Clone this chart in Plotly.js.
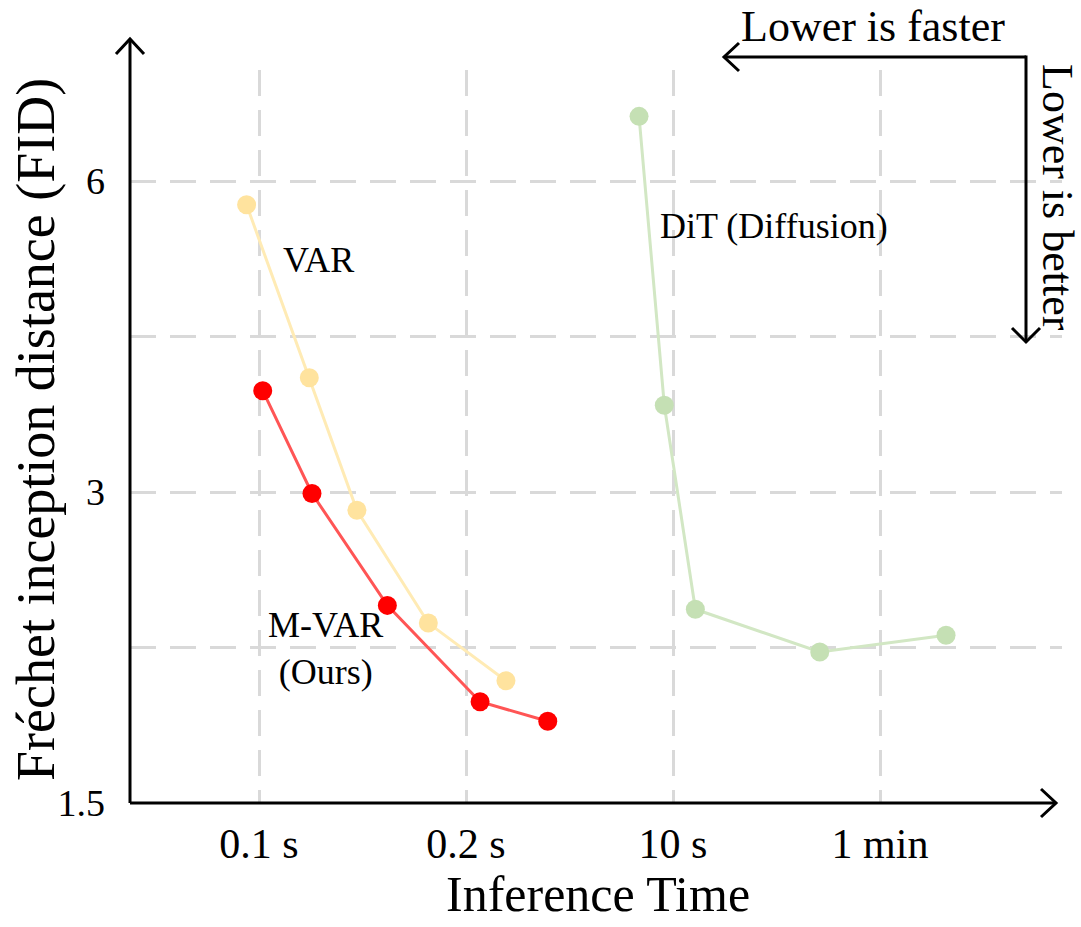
<!DOCTYPE html>
<html>
<head>
<meta charset="utf-8">
<script src="https://cdn.plot.ly/plotly-3.0.1.min.js"></script>
<style>html,body{margin:0;padding:0;background:#fff;}#chart{width:1081px;height:927px;}</style>
</head>
<body>
<div id="chart"></div>
<script>
// ---- data (x = position on the broken time axis: 1=0.1 s, 2=0.2 s, 3=10 s, 4=1 min) ----
const tickPositions = [1, 2, 3, 4];
const tickLabels = ['0.1 s', '0.2 s', '10 s', '1 min'];
const fidTicks = [1.5, 3, 6];
const fidTickLabels = ['1.5', '3', '6'];
const fidMinorGrid = [2.121, 4.243];

const varTime = [0.940, 1.243, 1.473, 1.818, 2.193];
const varFid  = [5.69, 3.87, 2.88, 2.24, 1.97];

const mvarTime = [1.018, 1.256, 1.620, 2.068, 2.395];
const mvarFid  = [3.76, 2.99, 2.33, 1.88, 1.80];

const ditTime = [2.836, 2.958, 3.108, 3.709, 4.319];
const ditFid  = [6.93, 3.64, 2.31, 2.10, 2.18];

// ---- layout geometry ----
const W = 1081, H = 927;
const M = {l: 130, r: 19, t: 70, b: 124};
const PW = W - M.l - M.r, PH = H - M.t - M.b;
const px = x => (x - M.l) / PW;         // pixel -> paper x
const py = y => (H - M.b - y) / PH;     // pixel -> paper y
const FONT = 'Liberation Serif, Times New Roman, serif';

function line(x0, y0, x1, y1) {
  return {type: 'line', xref: 'paper', yref: 'paper', x0: px(x0), y0: py(y0), x1: px(x1), y1: py(y1),
          line: {color: '#000', width: 3}, layer: 'above'};
}
function chevron(pts) {
  const d = 'M' + pts.map(p => px(p[0]) + ',' + py(p[1])).join(' L');
  return {type: 'path', xref: 'paper', yref: 'paper', path: d, line: {color: '#000', width: 3}, layer: 'above'};
}

const traces = [
  {x: varTime, y: varFid, mode: 'lines+markers', name: 'VAR',
   line: {color: '#FFEBB5', width: 3}, marker: {color: '#FFE39E', size: 19}, cliponaxis: false},
  {x: mvarTime, y: mvarFid, mode: 'lines+markers', name: 'M-VAR (Ours)',
   line: {color: '#FF5555', width: 3}, marker: {color: '#FF0000', size: 19}, cliponaxis: false},
  {x: ditTime, y: ditFid, mode: 'lines+markers', name: 'DiT (Diffusion)',
   line: {color: '#D2E7C4', width: 3}, marker: {color: '#C5E0B4', size: 19}, cliponaxis: false}
];

const gridStyle = {gridcolor: '#D9D9D9', gridwidth: 3, griddash: '26px,14px'};

const layout = {
  width: W, height: H,
  margin: M,
  paper_bgcolor: '#fff', plot_bgcolor: '#fff',
  showlegend: false,
  font: {family: FONT, color: '#000'},
  xaxis: Object.assign({
    range: [1 + (M.l - 259) / 207, 1 + (W - M.r - 259) / 207],
    tickvals: tickPositions, ticktext: tickLabels,
    showgrid: true, zeroline: false, showline: false, ticks: '',
    ticklabelstandoff: 12,
    tickfont: {family: FONT, size: 42, color: '#000'},
    fixedrange: true
  }, gridStyle),
  yaxis: Object.assign({
    type: 'log',
    range: [Math.log10(1.5), Math.log10(1.5 * Math.pow(2, (H - M.b - M.t) / 311))],
    tickvals: fidTicks, ticktext: fidTickLabels,
    showgrid: true, zeroline: false, showline: false, ticks: '',
    ticklabelstandoff: 24,
    tickfont: {family: FONT, size: 38, color: '#000'},
    minor: Object.assign({tickvals: fidMinorGrid, showgrid: true, ticks: ''}, gridStyle),
    fixedrange: true
  }, gridStyle),
  shapes: [
    line(130, 803, 130, 40), chevron([[116, 54], [130, 39], [144, 54]]),
    line(130, 803, 1056, 803), chevron([[1041, 789], [1056, 803], [1041, 817]]),
    line(1026, 57, 725, 57), chevron([[739, 43], [724, 57], [739, 71]]),
    line(1026, 55.5, 1026, 342), chevron([[1012, 328], [1026, 342], [1040, 328]])
  ],
  annotations: [
    {xref: 'paper', yref: 'paper', x: px(598), y: py(894), text: 'Inference Time', showarrow: false,
     font: {size: 50}, xanchor: 'center', yanchor: 'middle'},
    {xref: 'paper', yref: 'paper', x: px(36), y: py(430), text: 'Fréchet inception distance (FID)', showarrow: false,
     font: {size: 54}, textangle: -90, xanchor: 'center', yanchor: 'middle'},
    {xref: 'paper', yref: 'paper', x: px(873), y: py(27), text: 'Lower is faster', showarrow: false,
     font: {size: 44}, xanchor: 'center', yanchor: 'middle'},
    {xref: 'paper', yref: 'paper', x: px(1058), y: py(197), text: 'Lower is better', showarrow: false,
     font: {size: 44}, textangle: 90, xanchor: 'center', yanchor: 'middle'},
    {xref: 'paper', yref: 'paper', x: px(318), y: py(260), text: 'VAR', showarrow: false,
     font: {size: 36}, xanchor: 'center', yanchor: 'middle'},
    {xref: 'paper', yref: 'paper', x: px(325), y: py(648), text: 'M-VAR<br>(Ours)', showarrow: false,
     font: {size: 36}, xanchor: 'center', yanchor: 'middle'},
    {xref: 'paper', yref: 'paper', x: px(774), y: py(226), text: 'DiT (Diffusion)', showarrow: false,
     font: {size: 36}, xanchor: 'center', yanchor: 'middle'}
  ]
};

Plotly.newPlot('chart', traces, layout, {displayModeBar: false, staticPlot: true});
</script>
</body>
</html>
